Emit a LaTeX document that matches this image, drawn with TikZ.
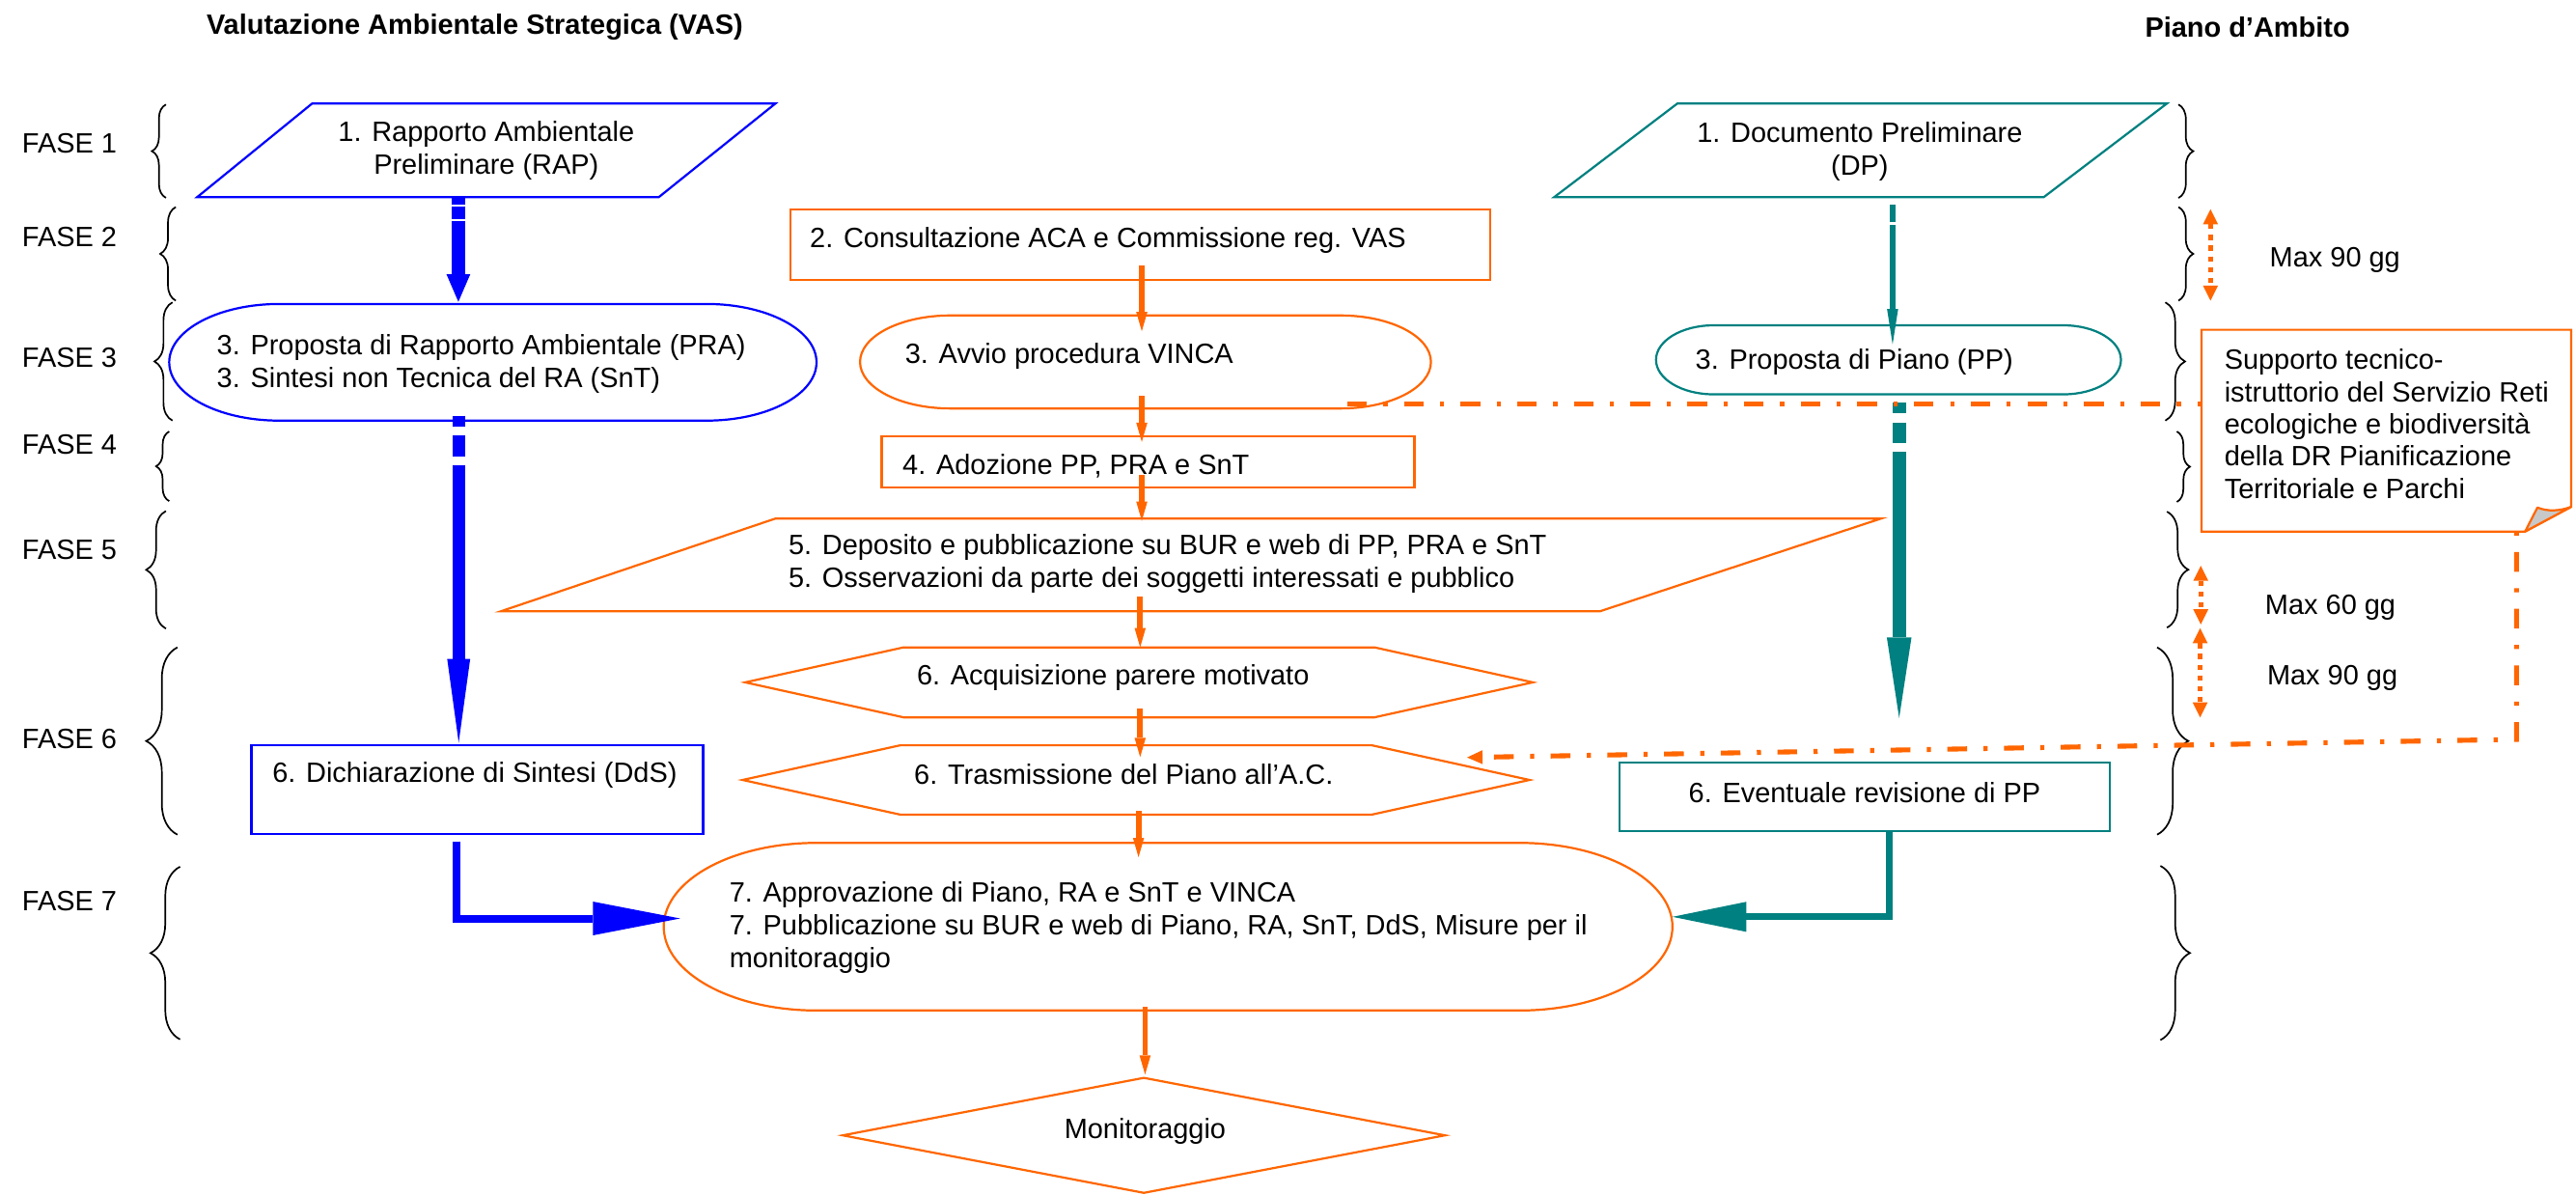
\documentclass[tikz,border=0pt]{standalone}
\usepackage{fontspec}
\setmainfont{Liberation Sans}
\usetikzlibrary{arrows.meta,decorations.pathreplacing,calc}
\definecolor{vasblue}{RGB}{0,0,255}
\definecolor{pteal}{RGB}{0,128,128}
\definecolor{porange}{RGB}{255,102,0}
\definecolor{flapgray}{RGB}{200,200,200}
\newcommand{\stadiumpath}[4]{%
  \draw[#4] ([xshift=#2pt]#1.north west) -- ([xshift=-#2pt]#1.north east)
    arc[start angle=90,end angle=-90,x radius=#2pt,y radius=#3pt]
    -- ([xshift=#2pt]#1.south west)
    arc[start angle=270,end angle=90,x radius=#2pt,y radius=#3pt] -- cycle;}
\begin{document}
\begin{tikzpicture}[x=1pt,y=-1pt,
  geom/.style 2 args={minimum width=#1pt,minimum height=#2pt,inner sep=0pt,outer sep=0pt},
  lbl/.style={font=\fontsize{17}{20}\selectfont,inner sep=0pt,outer sep=0pt,align=left},
  clbl/.style={lbl,align=center},
  ttl/.style={font=\fontsize{17}{20}\selectfont\bfseries,inner sep=0pt},
  bshape/.style={draw=vasblue,line width=1.3pt},
  oshape/.style={draw=porange,line width=1.3pt},
  tshape/.style={draw=pteal,line width=1.3pt},
  fbrace/.style={draw=black,line width=1pt,decorate,decoration={brace,amplitude=#1pt}},
  oarrow/.style={draw=porange,line width=3.4pt,-{Triangle[length=11.7pt,width=6.8pt,line width=0pt]}},
  ddash/.style={draw=porange,line width=3pt,dash pattern=on 12pt off 10pt on 2.5pt off 10pt},
  maxarrow/.style={draw=porange,line width=3pt,dash pattern=on 3pt off 3.5pt,
     {Triangle[length=9.2pt,width=9.2pt,line width=0pt]}-{Triangle[length=9.2pt,width=9.2pt,line width=0pt]}}]
\useasboundingbox (0,0) rectangle (1568,727);

% ---------- geometry nodes ----------
\node[geom={352}{57}] (RAP) at (296,91.5) {};
\node[geom={394}{71}] (PRA) at (300,220.5) {};
\node[geom={275}{54}] (DDS) at (290.5,480.6) {};
\node[geom={373}{57}] (DP) at (1132.5,91.5) {};
\node[geom={283}{42}] (PP) at (1149.5,219) {};
\node[geom={298}{42}] (EVR) at (1135,485) {};
\node[geom={426}{43}] (CON) at (694,148.9) {};
\node[geom={347.5}{56.6}] (VIN) at (697.25,220.3) {};
\node[geom={324.4}{31.3}] (ADO) at (698.8,281) {};
\node[geom={840}{56.4}] (DEP) at (725,343.8) {};
\node[geom={479.4}{42.6}] (ACQ) at (693.3,415.3) {};
\node[geom={479}{42.2}] (TRA) at (691.5,474.7) {};
\node[geom={614}{102}] (APP) at (711,564) {};
\node[geom={366.5}{70}] (MON) at (696.25,691) {};
\node[geom={225}{122.8}] (SUP) at (1452.5,262.1) {};

% ---------- shapes ----------
\draw[bshape] ([xshift=70pt]RAP.north west) -- (RAP.north east) -- ([xshift=-71pt]RAP.south east) -- (RAP.south west) -- cycle;
\stadiumpath{PRA}{67}{35.5}{bshape}
\draw[bshape] (DDS.north west) rectangle (DDS.south east);
\draw[tshape] ([xshift=75pt]DP.north west) -- (DP.north east) -- ([xshift=-75pt]DP.south east) -- (DP.south west) -- cycle;
\stadiumpath{PP}{35}{21}{tshape}
\draw[tshape] (EVR.north west) rectangle (EVR.south east);
\draw[oshape] (CON.north west) rectangle (CON.south east);
\stadiumpath{VIN}{55}{28.3}{oshape}
\draw[oshape] (ADO.north west) rectangle (ADO.south east);
\draw[oshape] ([xshift=167pt]DEP.north west) -- (DEP.north east) -- ([xshift=-171pt]DEP.south east) -- (DEP.south west) -- cycle;
\draw[oshape] (ACQ.west) -- ([xshift=96.4pt]ACQ.north west) -- ([xshift=-96.4pt]ACQ.north east) -- (ACQ.east) -- ([xshift=-96.4pt]ACQ.south east) -- ([xshift=96.4pt]ACQ.south west) -- cycle;
\draw[oshape] (TRA.west) -- ([xshift=96pt]TRA.north west) -- ([xshift=-96pt]TRA.north east) -- (TRA.east) -- ([xshift=-96pt]TRA.south east) -- ([xshift=96pt]TRA.south west) -- cycle;
\stadiumpath{APP}{93}{51}{oshape}
\draw[oshape] (MON.west) -- (MON.north) -- (MON.east) -- (MON.south) -- cycle;
\draw[oshape] (SUP.north west) -- (SUP.north east) -- ($(SUP.south east)+(0,-15)$) -- ($(SUP.south east)+(-28,0)$) -- (SUP.south west) -- cycle;
\draw[oshape,fill=flapgray,line join=round] ($(SUP.south east)+(-28,0)$) -- ($(SUP.south east)+(-20.5,-14.6)$)
  .. controls ($(SUP.south east)+(-14,-12)$) and ($(SUP.south east)+(-7,-12.5)$) .. ($(SUP.south east)+(0,-15)$) -- cycle;

% ---------- braces ----------
\draw[fbrace=8.5] (101,120.4) -- (101,63.6);
\draw[fbrace=9.5] (107,183) -- (107,126);
\draw[fbrace=11] (105,256) -- (105,184);
\draw[fbrace=8] (103,305) -- (103,262.6);
\draw[fbrace=12] (101,382.6) -- (101,311);
\draw[fbrace=19] (108,508) -- (108,394);
\draw[fbrace=18] (109.6,632.6) -- (109.6,527.5);
\draw[fbrace=9] (1326,63.6) -- (1326,120.5);
\draw[fbrace=9] (1326,126) -- (1326,183);
\draw[fbrace=12] (1318,184) -- (1318,256);
\draw[fbrace=8] (1325,262.6) -- (1325,305.5);
\draw[fbrace=13] (1319,311.4) -- (1319,382);
\draw[fbrace=19] (1313,394) -- (1313,508);
\draw[fbrace=18] (1315,527) -- (1315,633);

% ---------- connectors ----------
\draw[draw=vasblue,line width=8pt,dash pattern=on 5pt off 1pt on 8pt off 1pt on 300pt,
  -{Triangle[length=16.8pt,width=14.5pt,line width=0pt]}]
  ($(RAP.south)+(-17,-0.5)$) -- ($(PRA.north)+(-21,-1.3)$);
\draw[draw=vasblue,line width=7.5pt,dash pattern=on 6.5pt off 5.5pt on 12.7pt off 5.5pt on 400pt,
  -{Triangle[length=51pt,width=14pt,line width=0pt]}]
  ($(PRA.south)+(-20.8,-3)$) -- ($(DDS.north)+(-11.3,-1.6)$);
\draw[draw=vasblue,line width=4.7pt,-{Triangle[length=53pt,width=20.5pt,line width=0pt]}]
  ($(DDS.south)+(-12.5,4.4)$) |- ($(APP.west)+(10,-5)$);

\draw[draw=pteal,line width=4pt,dash pattern=on 10.7pt off 2pt on 300pt,
  -{Triangle[length=21.6pt,width=6.8pt,line width=0pt]}]
  ($(DP.south)+(19.5,4.4)$) -- ($(PP.north)+(2.5,11.6)$);
\draw[draw=pteal,line width=8pt,dash pattern=on 6.5pt off 5.5pt on 12.7pt off 5.3pt on 400pt,
  -{Triangle[length=49pt,width=15pt,line width=0pt]}]
  ($(PP.south)+(6.5,5.2)$) -- ($(EVR.north)+(21,-27)$);
\draw[draw=pteal,line width=4pt,-{Triangle[length=45pt,width=18.3pt,line width=0pt]}]
  ($(EVR.south)+(15,0)$) |- ($(APP.east)+(0,-6)$);

\draw[oarrow] ($(CON.south)+(1,-8.8)$) -- ($(VIN.north)+(-2.25,9.6)$);
\draw[oarrow] ($(VIN.south)+(-2.25,-7.6)$) -- ($(ADO.north)+(-3.8,3.6)$);
\draw[oarrow] ($(ADO.south)+(-3.8,-7.7)$) -- ($(DEP.north)+(-30,1.4)$);
\draw[oarrow] ($(DEP.south)+(-31,-9)$) -- ($(ACQ.north)+(0.7,0)$);
\draw[oarrow] ($(ACQ.south)+(0.7,-5.6)$) -- ($(TRA.north)+(2.5,7.2)$);
\draw[oarrow] ($(TRA.south)+(1.5,-2.3)$) -- ($(APP.north)+(-18,8.7)$);
\draw[oarrow] ($(APP.south)+(-14,-2)$) -- ($(MON.north)+(0.75,-2)$);

\coordinate (vinR) at ($(VIN.south east)+(-51,-2.6)$);
\draw[ddash] (vinR) -- (vinR -| SUP.west);
\draw[ddash,dash phase=22pt,-{Triangle[length=9.4pt,width=8.5pt,line width=0pt]}]
  ($(SUP.south east)+(-33.2,0)$) -- ($(SUP.south east)+(-33.2,126.5)$) -- ($(TRA.east)+(-38,-13.7)$);

\coordinate (m1a) at (1345.5,127.3); \coordinate (m1b) at (1345.5,183);
\coordinate (m2a) at (1339.6,344.3); \coordinate (m2b) at (1339.6,380);
\coordinate (m3a) at (1339.2,382.3); \coordinate (m3b) at (1339.2,436.7);
\draw[maxarrow] (m1a) -- (m1b);
\draw[maxarrow] (m2a) -- (m2b);
\draw[maxarrow] (m3a) -- (m3b);

% ---------- texts ----------
\node[ttl] (tVAS) at (289,16.5) {Valutazione Ambientale Strategica (VAS)};
\node[ttl] (tPA) at (1368,16.5) {Piano d’Ambito};

\node[lbl,anchor=west] (F1) at (13.5,87.5) {FASE 1};
\node[lbl,anchor=west] (F2) at (13.5,144.5) {FASE 2};
\node[lbl,anchor=west] (F3) at (13.5,217.5) {FASE 3};
\node[lbl,anchor=west] (F4) at (13.5,270.5) {FASE 4};
\node[lbl,anchor=west] (F5) at (13.5,334.5) {FASE 5};
\node[lbl,anchor=west] (F6) at (13.5,449.5) {FASE 6};
\node[lbl,anchor=west] (F7) at (13.5,548.5) {FASE 7};

\node[clbl] (RAPt) at (296,91.5) {1. Rapporto Ambientale\\Preliminare (RAP)};
\node[clbl] (DPt) at (1132,92.5) {1. Documento Preliminare\\(DP)};
\node[lbl,anchor=west] (CONt) at (493,146.5) {2. Consultazione ACA e Commissione reg. VAS};
\node[lbl,anchor=west] (PRAt) at (132,221.5) {3. Proposta di Rapporto Ambientale (PRA)\\3. Sintesi non Tecnica del RA (SnT)};
\node[lbl,anchor=west] (VINt) at (551,217) {3. Avvio procedura VINCA};
\node[lbl,anchor=west] (PPt) at (1032,220.5) {3. Proposta di Piano (PP)};
\node[lbl,anchor=west] (ADOt) at (549.4,283.5) {4. Adozione PP, PRA e SnT};
\node[lbl,anchor=west] (DEPt) at (480,343) {5. Deposito e pubblicazione su BUR e web di PP, PRA e SnT\\5. Osservazioni da parte dei soggetti interessati e pubblico};
\node[lbl] (ACQt) at (677.5,412.5) {6. Acquisizione parere motivato};
\node[lbl] (TRAt) at (684,471.5) {6. Trasmissione del Piano all’A.C.};
\node[lbl] (DDSt) at (289,471.5) {6. Dichiarazione di Sintesi (DdS)};
\node[lbl] (EVRt) at (1135,482.5) {6. Eventuale revisione di PP};
\node[lbl,anchor=west] (APPt) at (444,564.5) {7. Approvazione di Piano, RA e SnT e VINCA\\7. Pubblicazione su BUR e web di Piano, RA, SnT, DdS, Misure per il\\monitoraggio};
\node[lbl] (MONt) at (697,688.5) {Monitoraggio};
\node[lbl,anchor=west,font=\fontsize{17}{19.6}\selectfont] (SUPt) at (1354,258) {Supporto tecnico-\\istruttorio del Servizio Reti\\ecologiche e biodiversità\\della DR Pianificazione\\Territoriale e Parchi};
\node[lbl,anchor=west] (M1t) at (1381.6,158.2) {Max 90 gg};
\node[lbl,anchor=west] (M2t) at (1378.8,369.7) {Max 60 gg};
\node[lbl,anchor=west] (M3t) at (1380,412.8) {Max 90 gg};
\end{tikzpicture}
\end{document}
